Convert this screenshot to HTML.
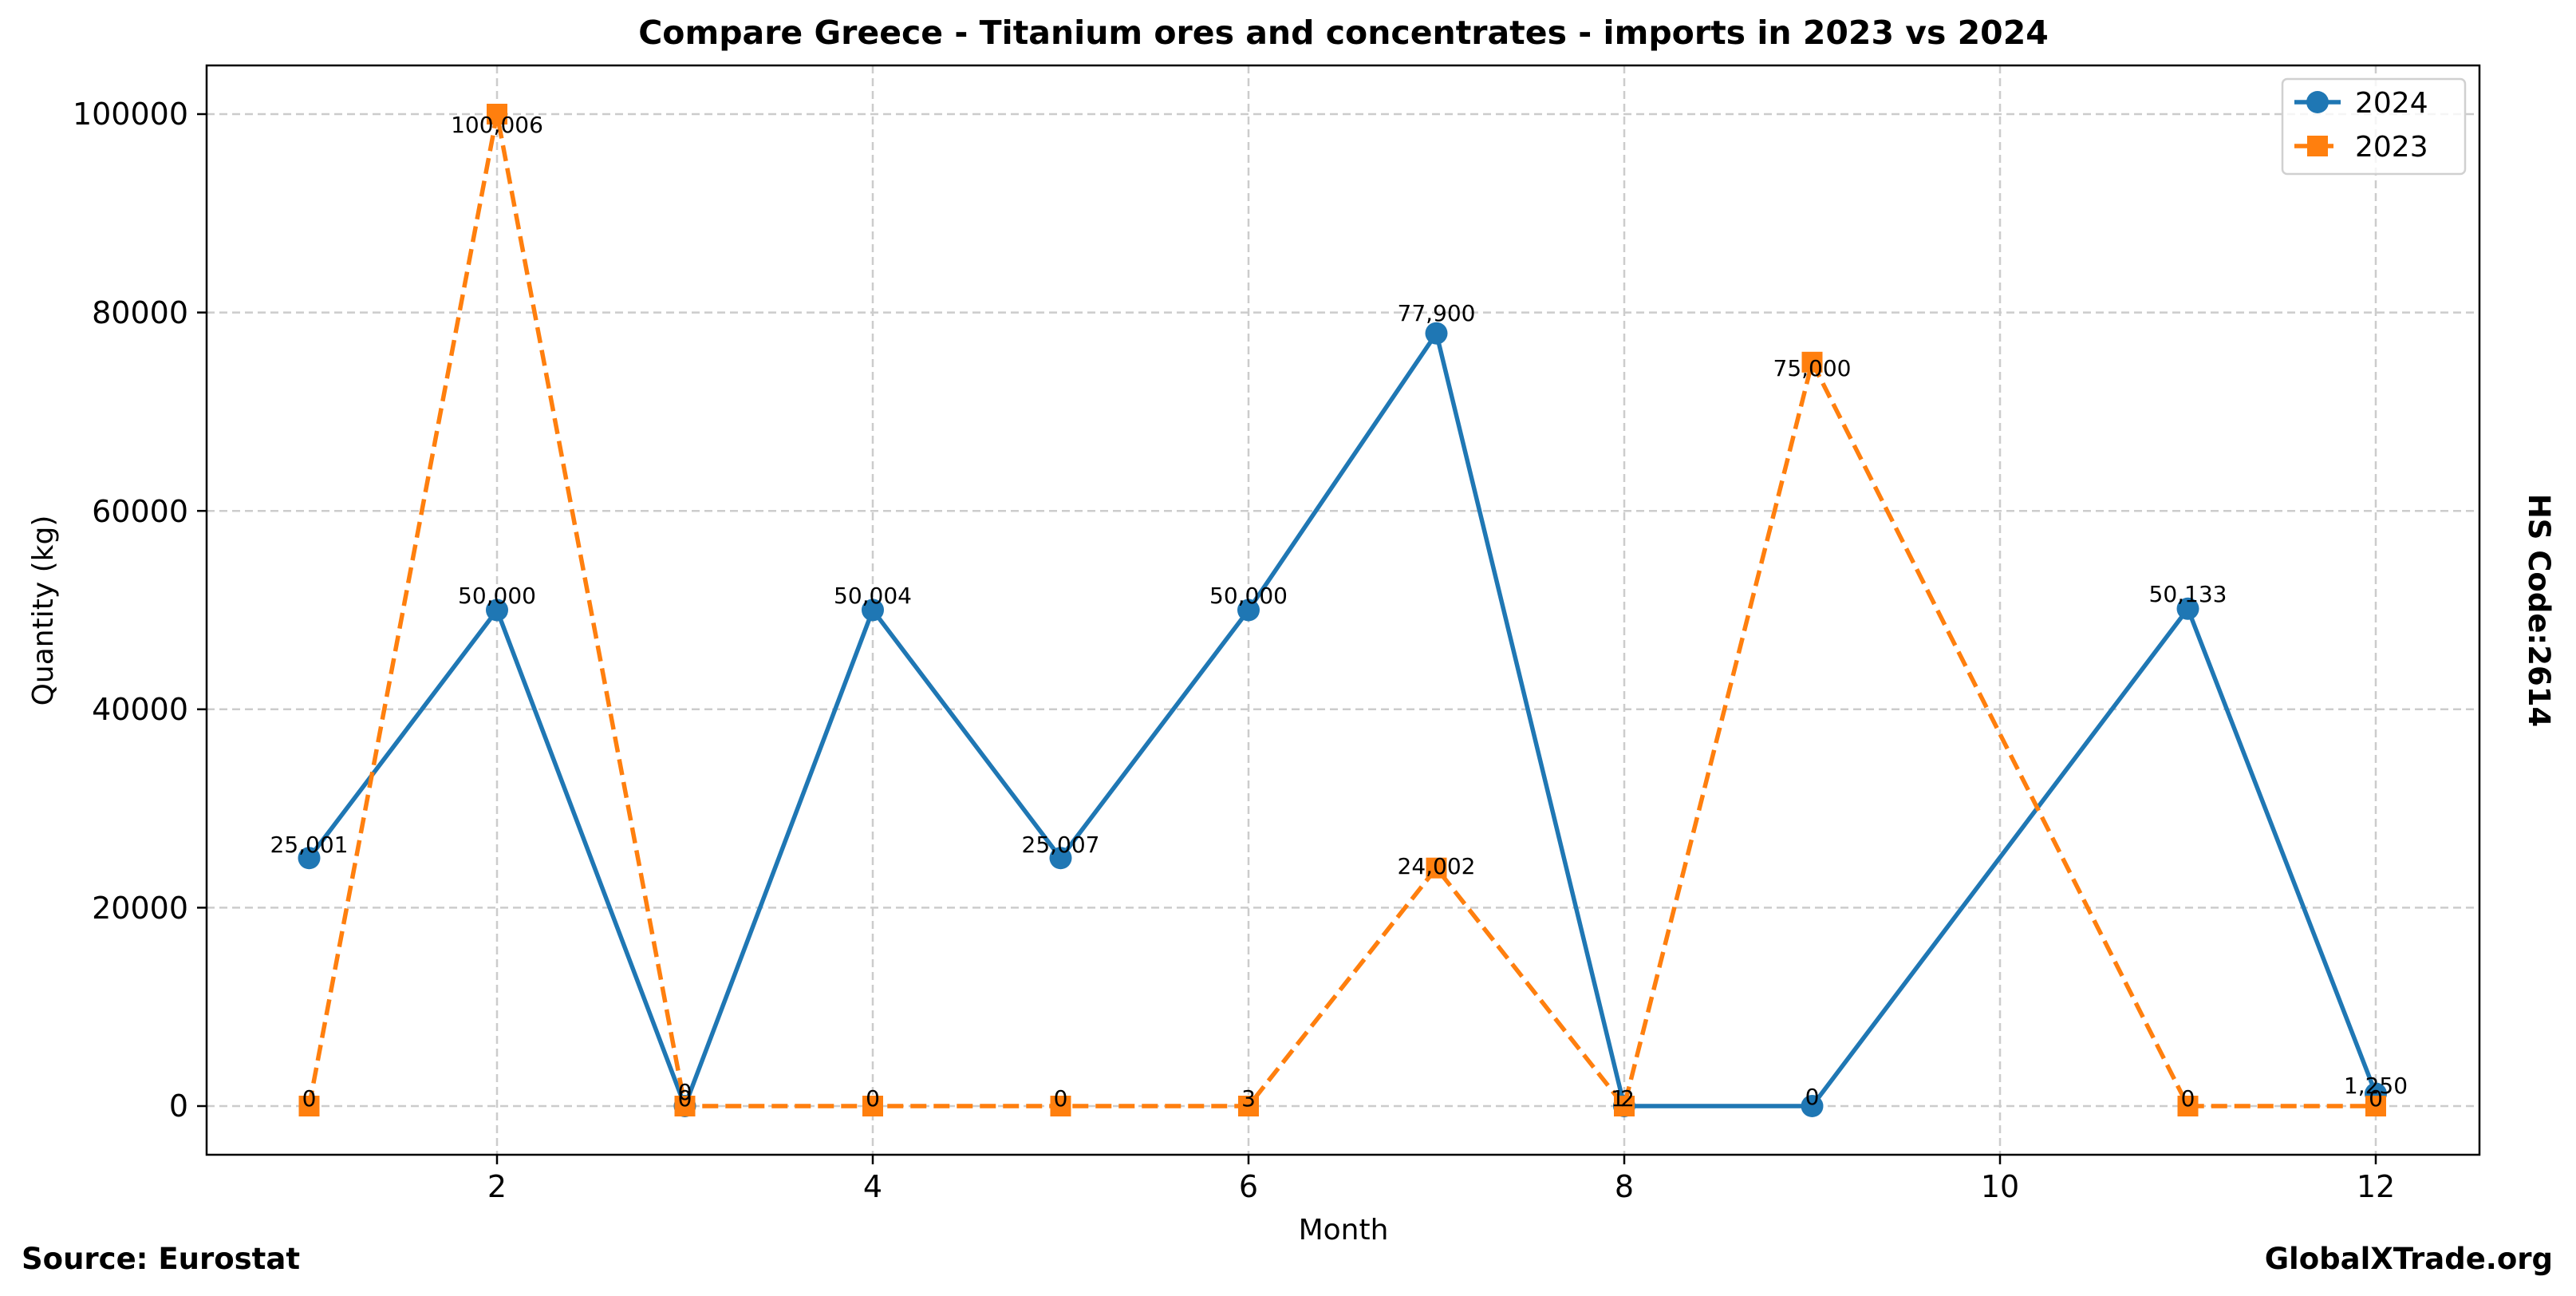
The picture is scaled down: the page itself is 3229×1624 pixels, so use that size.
<!DOCTYPE html>
<html><head><meta charset="utf-8"><style>html,body{margin:0;padding:0;background:#fff}svg{display:block}</style></head><body>
<svg width="3229" height="1624" viewBox="0 0 3229 1624" xmlns="http://www.w3.org/2000/svg" font-family="DejaVu Sans, Liberation Sans, sans-serif">
<rect width="3229" height="1624" fill="#fff"/>
<g stroke="#cccccc" stroke-width="2.5" stroke-dasharray="10,6">
<line x1="623" y1="82" x2="623" y2="1447"/><line x1="1094" y1="82" x2="1094" y2="1447"/><line x1="1565" y1="82" x2="1565" y2="1447"/><line x1="2036" y1="82" x2="2036" y2="1447"/><line x1="2507" y1="82" x2="2507" y2="1447"/><line x1="2978" y1="82" x2="2978" y2="1447"/>
<line x1="259" y1="1386" x2="3108" y2="1386"/><line x1="259" y1="1137.4" x2="3108" y2="1137.4"/><line x1="259" y1="888.8" x2="3108" y2="888.8"/><line x1="259" y1="640.2" x2="3108" y2="640.2"/><line x1="259" y1="391.6" x2="3108" y2="391.6"/><line x1="259" y1="143" x2="3108" y2="143"/>
</g>
<polyline fill="none" stroke="#1f77b4" stroke-width="5.5" stroke-linejoin="round" points="387.5,1075.2 623,764.5 858.5,1386 1094,764.4 1329.5,1075.2 1565,764.5 1800.5,417.7 2036,1386 2271.5,1386 2742.5,762.8 2978,1370.5"/>
<g fill="#1f77b4">
<circle cx="387.5" cy="1075.2" r="14"/><circle cx="623" cy="764.5" r="14"/><circle cx="858.5" cy="1386" r="14"/><circle cx="1094" cy="764.4" r="14"/><circle cx="1329.5" cy="1075.2" r="14"/><circle cx="1565" cy="764.5" r="14"/><circle cx="1800.5" cy="417.7" r="14"/><circle cx="2036" cy="1386" r="14"/><circle cx="2271.5" cy="1386" r="14"/><circle cx="2742.5" cy="762.8" r="14"/><circle cx="2978" cy="1370.5" r="14"/>
</g>
<polyline fill="none" stroke="#ff7f0e" stroke-width="5.5" stroke-dasharray="20,9" points="387.5,1386 623,143 858.5,1386 1094,1386 1329.5,1386 1565,1386 1800.5,1087.7 2036,1386 2271.5,453.8 2742.5,1386 2978,1386"/>
<g fill="#ff7f0e">
<rect x="374.5" y="1373" width="26" height="26"/><rect x="610" y="130" width="26" height="26"/><rect x="845.5" y="1373" width="26" height="26"/><rect x="1081" y="1373" width="26" height="26"/><rect x="1316.5" y="1373" width="26" height="26"/><rect x="1552" y="1373" width="26" height="26"/><rect x="1787.5" y="1074.7" width="26" height="26"/><rect x="2023" y="1373" width="26" height="26"/><rect x="2258.5" y="440.8" width="26" height="26"/><rect x="2729.5" y="1373" width="26" height="26"/><rect x="2965" y="1373" width="26" height="26"/>
</g>
<g font-size="28" text-anchor="middle" fill="#000">
<text x="387.5" y="1068">25,001</text><text x="623" y="756">50,000</text><text x="858.5" y="1378">0</text><text x="1094" y="756">50,004</text><text x="1329.5" y="1068">25,007</text><text x="1565" y="756">50,000</text><text x="1800.5" y="402">77,900</text><text x="2040" y="1386">2</text><text x="2271.5" y="1384">0</text><text x="2742.5" y="754">50,133</text><text x="2978" y="1370">1,250</text>
<text x="387.5" y="1386">0</text><text x="623" y="166">100,006</text><text x="858.5" y="1386">0</text><text x="1094" y="1386">0</text><text x="1329.5" y="1386">0</text><text x="1565" y="1386">3</text><text x="1800.5" y="1095">24,002</text><text x="2028" y="1386">1</text><text x="2271.5" y="471">75,000</text><text x="2742.5" y="1386">0</text><text x="2978" y="1386">0</text>
</g>
<rect x="259" y="82" width="2849" height="1365" fill="none" stroke="#000" stroke-width="2.5"/>
<g stroke="#000" stroke-width="2.5">
<line x1="623" y1="1447" x2="623" y2="1459"/><line x1="1094" y1="1447" x2="1094" y2="1459"/><line x1="1565" y1="1447" x2="1565" y2="1459"/><line x1="2036" y1="1447" x2="2036" y2="1459"/><line x1="2507" y1="1447" x2="2507" y2="1459"/><line x1="2978" y1="1447" x2="2978" y2="1459"/>
<line x1="247" y1="1386" x2="259" y2="1386"/><line x1="247" y1="1137.4" x2="259" y2="1137.4"/><line x1="247" y1="888.8" x2="259" y2="888.8"/><line x1="247" y1="640.2" x2="259" y2="640.2"/><line x1="247" y1="391.6" x2="259" y2="391.6"/><line x1="247" y1="143" x2="259" y2="143"/>
</g>
<g font-size="38" fill="#000" text-anchor="middle">
<text x="623" y="1500">2</text><text x="1094" y="1500">4</text><text x="1565" y="1500">6</text><text x="2036" y="1500">8</text><text x="2507" y="1500">10</text><text x="2978" y="1500">12</text>
</g>
<g font-size="38" fill="#000" text-anchor="end">
<text x="236" y="1399">0</text><text x="236" y="1151">20000</text><text x="236" y="902">40000</text><text x="236" y="654">60000</text><text x="236" y="405">80000</text><text x="236" y="156">100000</text>
</g>
<text x="1684" y="1553" font-size="36" text-anchor="middle">Month</text>
<text transform="translate(66,765) rotate(-90)" font-size="36" text-anchor="middle">Quantity (kg)</text>
<text x="1684" y="55" font-size="41" font-weight="bold" text-anchor="middle">Compare Greece - Titanium ores and concentrates - imports in 2023 vs 2024</text>
<text transform="translate(3170,765) rotate(90)" font-size="37" font-weight="bold" text-anchor="middle">HS Code:2614</text>
<text x="27" y="1590" font-size="37" font-weight="bold">Source: Eurostat</text>
<text x="3200" y="1590" font-size="37" font-weight="bold" text-anchor="end">GlobalXTrade.org</text>
<rect x="2861" y="99" width="229" height="119" rx="6" fill="#fff" fill-opacity="0.8" stroke="#d0d0d0" stroke-width="2.5"/>
<line x1="2876" y1="128" x2="2934" y2="128" stroke="#1f77b4" stroke-width="5.5"/><circle cx="2905" cy="128" r="14" fill="#1f77b4"/>
<line x1="2876" y1="183" x2="2934" y2="183" stroke="#ff7f0e" stroke-width="5.5" stroke-dasharray="20,9"/><rect x="2892" y="170" width="26" height="26" fill="#ff7f0e"/>
<text x="2952" y="141" font-size="36">2024</text><text x="2952" y="196" font-size="36">2023</text>
</svg>
</body></html>
